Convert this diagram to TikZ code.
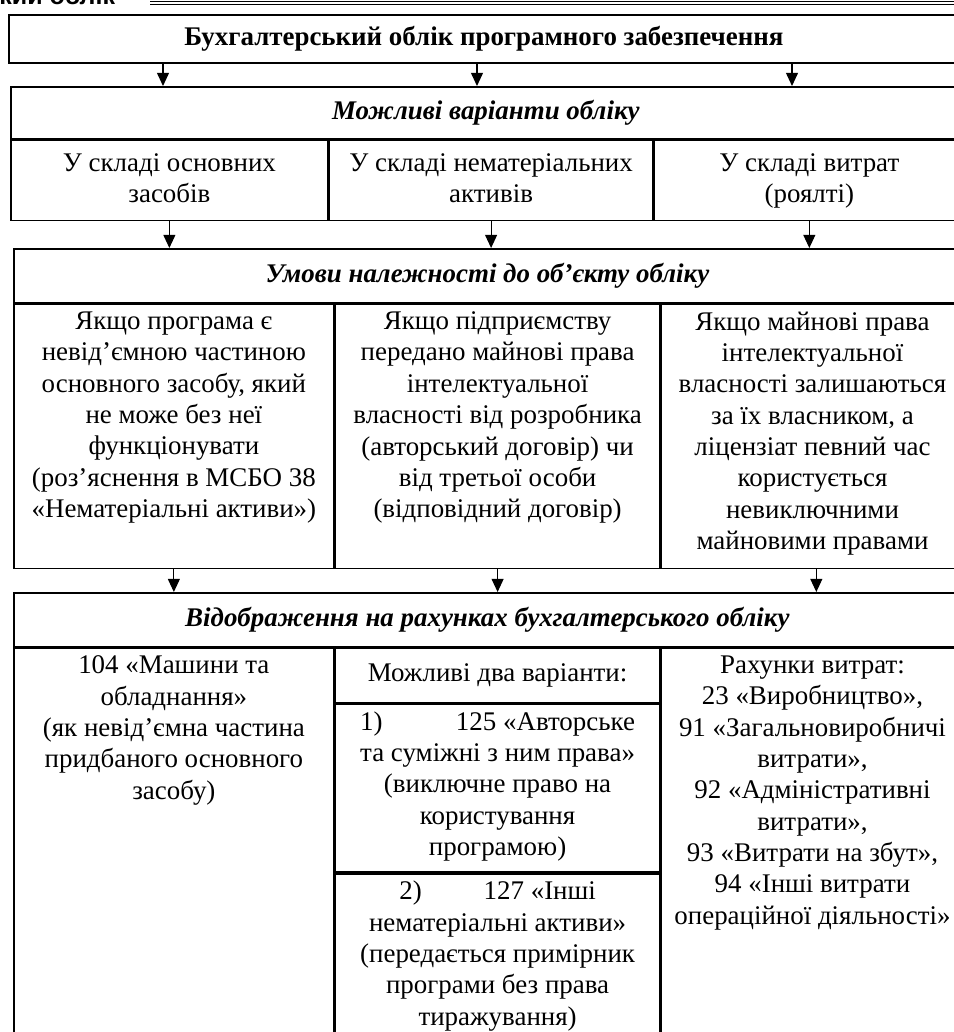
\documentclass[tikz,border=0pt]{standalone}
\usepackage{fontspec}
\usepackage{calc}
\setmainfont{Liberation Serif}
\newfontfamily\hdrfont{Liberation Sans}
\usetikzlibrary{positioning,arrows.meta}
\newcommand{\pxl}{0.52pt}
\def\txt{\fontsize{14}{16.3}\selectfont}

\begin{document}
\begin{tikzpicture}[x=\pxl,y=-\pxl,
  frame/.style={draw,line width=0.9pt,anchor=north west,inner sep=0pt,align=center,font=\txt},
  head/.style={frame,font=\txt\bfseries\itshape},
  cell/.style={anchor=north,inner sep=0pt,align=center,font=\txt},
  arr/.style={-{Triangle[width=6.2pt,length=6.8pt]},line width=0.6pt}]
\useasboundingbox (0,0) rectangle (954,1032);
\clip (0,0) rectangle (954,1032);

% page header
\node[anchor=base west,inner sep=0pt,font=\hdrfont\bfseries\fontsize{13}{14}\selectfont] (pghead) at (-1,5) {кий облік};
\draw[line width=0.9pt] (150,1.5) -- (960,1.5);
\draw[line width=0.5pt] (150,4.3) -- (960,4.3);

% level 1
\node[frame,font=\txt\bfseries,minimum width=950*\pxl,minimum height=48*\pxl] (top) at (8,14)
  {Бухгалтерський облік програмного забезпечення};

% level 2
\node[head,minimum width=950*\pxl,minimum height=52*\pxl] (var) at (10,86) {Можливі варіанти обліку};
\node[frame,minimum width=317*\pxl,minimum height=80*\pxl] (osn) at (var.south west) {\strut У складі основних\\засобів\strut};
\node[frame,minimum width=323*\pxl,minimum height=80*\pxl] (nema) at (osn.north east) {\strut У складі нематеріальних\\активів\strut};
\node[frame,minimum width=310*\pxl,minimum height=80*\pxl] (vytr) at (nema.north east) {\strut У складі витрат\\(роялті)\strut};
\foreach \ax in {163,477,792}
  \draw[arr] (\ax,0 |- top.south) -- (\ax,0 |- var.north);

% level 3
\node[head,minimum width=947*\pxl,minimum height=54*\pxl] (umovy) at (13,248) {Умови належності до об’єкту обліку};
\foreach \n in {osn,nema,vytr}
  \draw[arr] (\n.south) -- (\n.south |- umovy.north);
\node[frame,minimum width=320*\pxl,minimum height=264*\pxl] (u1) at (umovy.south west) {};
\node[frame,minimum width=324*\pxl,minimum height=264*\pxl] (u2) at (u1.north east) {};
\node[frame,minimum width=310*\pxl,minimum height=264*\pxl] (u3) at (u2.north east) {};
\node[cell,below=4pt of u1.north] (ut1) {Якщо програма є\\невід’ємною частиною\\основного засобу, який\\не може без неї\\функціонувати\\(роз’яснення в МСБО 38\\«Нематеріальні активи»)};
\node[cell,below=4pt of u2.north] (ut2) {Якщо підприємству\\передано майнові права\\інтелектуальної\\власності від розробника\\(авторський договір) чи\\від третьої особи\\(відповідний договір)};
\node[cell,below=4pt of u3.north,xshift=-2pt] (ut3) {Якщо майнові права\\інтелектуальної\\власності залишаються\\за їх власником, а\\ліцензіат певний час\\користується\\невиключними\\майновими правами};

% level 4
\node[head,minimum width=947*\pxl,minimum height=54*\pxl] (vidobr) at (13,592) {Відображення на рахунках бухгалтерського обліку};
\foreach \n in {u1,u2,u3}
  \draw[arr] (\n.south) -- (\n.south |- vidobr.north);
\node[frame,minimum width=320*\pxl,minimum height=420*\pxl] (r1) at (vidobr.south west) {};
\node[frame,minimum width=324*\pxl,minimum height=54*\pxl] (m0) at (r1.north east) {Можливі два варіанти:};
\node[frame,minimum width=324*\pxl,minimum height=168*\pxl] (m1) at (m0.south west) {};
\node[frame,minimum width=324*\pxl,minimum height=198*\pxl] (m2) at (m1.south west) {};
\node[frame,minimum width=310*\pxl,minimum height=420*\pxl] (r3) at (m0.north east) {};
\node[cell,below=4pt of r1.north] (rt1) {104 «Машини та\\обладнання»\\(як невід’ємна частина\\придбаного основного\\засобу)};
\node[cell,below=4pt of m1.north] (mt1) {\makebox[\widthof{та суміжні з ним права»}][s]{1)\hfill 125 «Авторське}\\та суміжні з ним права»\\(виключне право на\\користування\\програмою)};
\node[cell,below=4pt of m2.north] (mt2) {2)\hspace{2.3em}127 «Інші\\нематеріальні активи»\\(передається примірник\\програми без права\\тиражування)};
\node[cell,below=4pt of r3.north,xshift=-2pt] (rt3) {Рахунки витрат:\\23 «Виробництво»,\\91 «Загальновиробничі\\витрати»,\\92 «Адміністративні\\витрати»,\\93 «Витрати на збут»,\\94 «Інші витрати\\операційної діяльності»};
\end{tikzpicture}
\end{document}
